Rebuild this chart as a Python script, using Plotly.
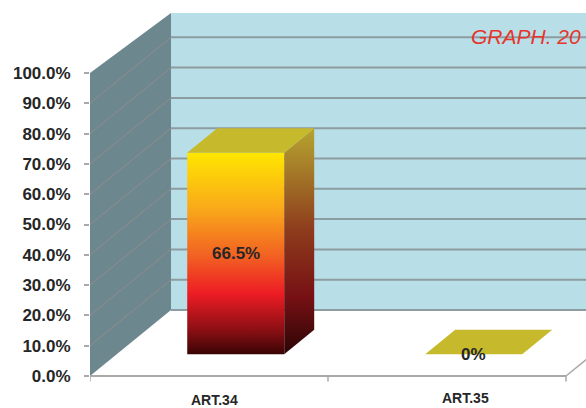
import plotly.graph_objects as go

# ---------------- data ----------------
categories = ["ART.34", "ART.35"]
values = [66.5, 0]
y_ticks = [0, 10, 20, 30, 40, 50, 60, 70, 80, 90, 100]
y_tick_labels = [f"{t:.1f}%" for t in y_ticks]
bar_labels = [f"{v:g}%" for v in values]
title_text = "GRAPH. 20"

# ---------------- style / geometry constants ----------------
W_PX, H_PX = 586, 408
ML = 90
PX_PER_X = 238.0
PX_PER_Y = 3.03
Y0_PX = 376
X_RANGE = [-0.5, -0.5 + (W_PX - ML) / PX_PER_X]
Y_RANGE = [(Y0_PX - H_PX) / PX_PER_Y, Y0_PX / PX_PER_Y]

DX = 81 / PX_PER_X          # depth offset (x units)
DY = 66 / PX_PER_Y          # depth offset (y units)
WALL_TOP_BACK = 98.0
F0, F1 = 0.33, 0.70         # bar front / back depth fractions
BAR_W = 97 / PX_PER_X

BACK_WALL = "#b8dfe7"
SIDE_WALL = "#6d878e"
GRID_BACK = "#8d9ca0"
GRID_SIDE = "rgba(160,140,140,0.75)"
FLOOR_LINE = "#a9a9a9"
TOP_FACE = "#c6b92c"
FRONT_SCALE = [[0, "#3a0404"], [0.12, "#8b0f14"], [0.3, "#ed1c24"],
               [0.5, "#f26522"], [0.72, "#f9a81a"], [1, "#ffe600"]]
SIDE_SCALE = [[0, "#2b0505"], [0.25, "#761014"], [0.55, "#8e3c1c"],
              [0.85, "#a8832a"], [1, "#b6a42e"]]
TEXT_COL = "#262626"
FONT = "Liberation Sans, Arial, sans-serif"

n = len(categories)
x_left = -0.5
x_right = n - 0.5

fig = go.Figure()


def poly(xs, ys, color=None, grad=None):
    kw = dict(x=xs + [xs[0]], y=ys + [ys[0]], mode="lines", fill="toself",
              line=dict(width=0), hoverinfo="skip", showlegend=False)
    if grad is not None:
        kw["fillgradient"] = dict(type="vertical", colorscale=grad)
    else:
        kw["fillcolor"] = color
    fig.add_trace(go.Scatter(**kw))


def line(xs, ys, color, width):
    fig.add_trace(go.Scatter(x=xs, y=ys, mode="lines",
                             line=dict(color=color, width=width),
                             hoverinfo="skip", showlegend=False))


# back wall
bx0 = x_left + DX
bx1 = x_right + DX + 1
poly([bx0, bx1, bx1, bx0], [DY, DY, DY + WALL_TOP_BACK, DY + WALL_TOP_BACK], BACK_WALL)
for t in y_ticks[:-1]:
    line([bx0, bx1], [t + DY, t + DY], GRID_BACK, 2)

# side wall
poly([x_left, bx0, bx0, x_left],
     [0, DY, DY + WALL_TOP_BACK, y_ticks[-1]], SIDE_WALL)
for t in y_ticks[1:-1]:
    line([x_left, bx0], [t, t + DY], GRID_SIDE, 1)

# floor edges and ticks
line([x_left, x_right], [0, 0], FLOOR_LINE, 2)
line([x_right, x_right + DX], [0, DY], FLOOR_LINE, 1.5)
for k in range(n + 1):
    xt = x_left + k
    line([xt, xt], [0, -1.8], FLOOR_LINE, 1.5)

# bars
for i, v in enumerate(values):
    cx = i + F0 * DX
    xl, xr = cx - BAR_W / 2, cx + BAR_W / 2
    yb = F0 * DY
    ddx = (F1 - F0) * DX
    ddy = (F1 - F0) * DY
    if v > 0:
        poly([xl, xr, xr, xl], [yb, yb, yb + v, yb + v], grad=FRONT_SCALE)
        poly([xr, xr + ddx, xr + ddx, xr],
             [yb, yb + ddy, yb + ddy + v, yb + v], grad=SIDE_SCALE)
    poly([xl, xr, xr + ddx, xl + ddx],
         [yb + v, yb + v, yb + v + ddy, yb + v + ddy], TOP_FACE)

annotations = []
for i, v in enumerate(values):
    cx = i + F0 * DX
    ymid = F0 * DY + v / 2
    annotations.append(dict(x=cx, y=ymid, xref="x", yref="y", text=bar_labels[i],
                            showarrow=False, xanchor="center", yanchor="middle",
                            font=dict(family=FONT, size=17, color=TEXT_COL, weight="bold")))

label_dx = [0.025, 0.076]
label_y = [-8.0, -7.1]
for i, c in enumerate(categories):
    annotations.append(dict(x=i + label_dx[i], y=label_y[i], xref="x", yref="y",
                            text=c, showarrow=False, xanchor="center", yanchor="middle",
                            font=dict(family=FONT, size=14, color=TEXT_COL, weight="bold")))

annotations.append(dict(x=(469 - ML) / (W_PX - ML), y=1 - 36 / H_PX,
                        xref="paper", yref="paper", text=title_text,
                        showarrow=False, xanchor="left", yanchor="middle",
                        font=dict(family=FONT, size=21, color="#e8352c", style="italic")))

fig.update_layout(
    width=W_PX, height=H_PX,
    margin=dict(l=ML, r=0, t=0, b=0),
    paper_bgcolor="white", plot_bgcolor="white",
    showlegend=False,
    annotations=annotations,
    xaxis=dict(range=X_RANGE, visible=False, fixedrange=True),
    yaxis=dict(range=Y_RANGE, tickvals=y_ticks, ticktext=y_tick_labels,
               showgrid=False, zeroline=False, showline=False,
               ticks="outside", ticklen=5, tickcolor=FLOOR_LINE, tickwidth=1.5,
               ticklabelstandoff=10,
               tickfont=dict(family=FONT, size=17, color=TEXT_COL, weight="bold"),
               fixedrange=True),
)

fig.write_html("out.html")
